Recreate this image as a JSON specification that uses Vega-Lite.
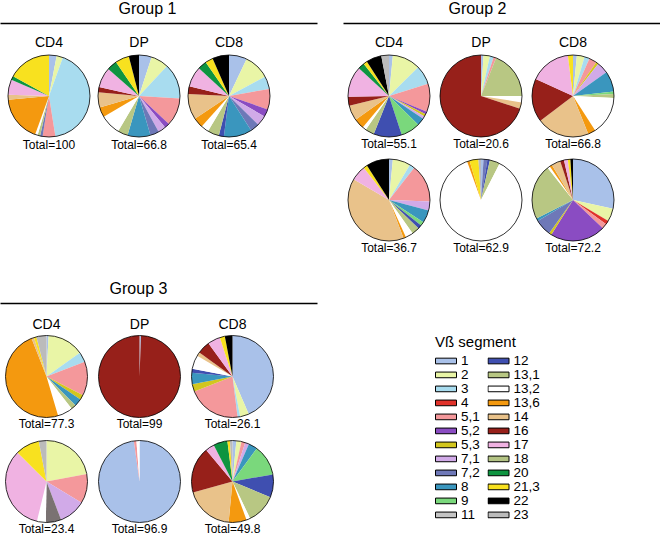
{
"$schema": "https://vega.github.io/schema/vega-lite/v6.json",
"padding": {"left": 0, "top": 0, "right": 0, "bottom": 0},
"background": "white",
"config": {"view": {"stroke": null}, "font": "Liberation Sans"},
"datasets": {
"segs": [{"s":"1","k":1},{"s":"2","k":2},{"s":"3","k":3},{"s":"4","k":4},{"s":"5,1","k":5},{"s":"5,2","k":6},{"s":"5,3","k":7},{"s":"7,1","k":8},{"s":"7,2","k":9},{"s":"8","k":10},{"s":"9","k":11},{"s":"10","k":12},{"s":"11","k":13},{"s":"12","k":14},{"s":"13,1","k":15},{"s":"13,2","k":16},{"s":"13,6","k":17},{"s":"14","k":18},{"s":"16","k":19},{"s":"17","k":20},{"s":"18","k":21},{"s":"20","k":22},{"s":"21,3","k":23},{"s":"22","k":24},{"s":"23","k":25}],
"pies": [
{"m":"M291","c":"CD4","t":"Total=100"},{"m":"M291","c":"DP","t":"Total=66.8"},{"m":"M291","c":"CD8","t":"Total=65.4"},
{"m":"M329","c":"CD4","t":"Total=55.1"},{"m":"M329","c":"DP","t":"Total=20.6"},{"m":"M329","c":"CD8","t":"Total=66.8"},
{"m":"M314","c":"CD4","t":"Total=36.7"},{"m":"M314","c":"DP","t":"Total=62.9"},{"m":"M314","c":"CD8","t":"Total=72.2"},
{"m":"M265","c":"CD4","t":"Total=77.3"},{"m":"M265","c":"DP","t":"Total=99"},{"m":"M265","c":"CD8","t":"Total=26.1"},
{"m":"M125","c":"CD4","t":"Total=23.4"},{"m":"M125","c":"DP","t":"Total=96.9"},{"m":"M125","c":"CD8","t":"Total=49.8"}
],
"slices": [
{"m":"M291","c":"CD4","s":"1","v":3},{"m":"M291","c":"CD4","s":"2","v":2.5},{"m":"M291","c":"CD4","s":"3","v":42},{"m":"M291","c":"CD4","s":"5,1","v":5},{"m":"M291","c":"CD4","s":"7,2","v":1},{"m":"M291","c":"CD4","s":"13,1","v":1},{"m":"M291","c":"CD4","s":"13,2","v":1},{"m":"M291","c":"CD4","s":"13,6","v":18},{"m":"M291","c":"CD4","s":"14","v":2},{"m":"M291","c":"CD4","s":"17","v":6},{"m":"M291","c":"CD4","s":"20","v":1.5},{"m":"M291","c":"CD4","s":"21,3","v":17},
{"m":"M291","c":"DP","s":"1","v":5},{"m":"M291","c":"DP","s":"2","v":7},{"m":"M291","c":"DP","s":"3","v":14},{"m":"M291","c":"DP","s":"5,1","v":11},{"m":"M291","c":"DP","s":"5,2","v":2},{"m":"M291","c":"DP","s":"7,1","v":3},{"m":"M291","c":"DP","s":"7,2","v":3.5},{"m":"M291","c":"DP","s":"8","v":9},{"m":"M291","c":"DP","s":"13,1","v":4},{"m":"M291","c":"DP","s":"13,2","v":8},{"m":"M291","c":"DP","s":"13,6","v":4},{"m":"M291","c":"DP","s":"14","v":6},{"m":"M291","c":"DP","s":"16","v":2},{"m":"M291","c":"DP","s":"17","v":8},{"m":"M291","c":"DP","s":"20","v":4},{"m":"M291","c":"DP","s":"21,3","v":5.5},{"m":"M291","c":"DP","s":"22","v":4},
{"m":"M291","c":"CD8","s":"1","v":7},{"m":"M291","c":"CD8","s":"2","v":10},{"m":"M291","c":"CD8","s":"3","v":5},{"m":"M291","c":"CD8","s":"5,1","v":8},{"m":"M291","c":"CD8","s":"5,2","v":3},{"m":"M291","c":"CD8","s":"7,1","v":4},{"m":"M291","c":"CD8","s":"7,2","v":3.5},{"m":"M291","c":"CD8","s":"8","v":11},{"m":"M291","c":"CD8","s":"12","v":2},{"m":"M291","c":"CD8","s":"13,1","v":4.5},{"m":"M291","c":"CD8","s":"13,2","v":3},{"m":"M291","c":"CD8","s":"13,6","v":4},{"m":"M291","c":"CD8","s":"14","v":10},{"m":"M291","c":"CD8","s":"16","v":3},{"m":"M291","c":"CD8","s":"17","v":8},{"m":"M291","c":"CD8","s":"20","v":3.5},{"m":"M291","c":"CD8","s":"21,3","v":3},{"m":"M291","c":"CD8","s":"22","v":6.5},
{"m":"M329","c":"CD4","s":"1","v":1.5},{"m":"M329","c":"CD4","s":"2","v":11},{"m":"M329","c":"CD4","s":"3","v":7.5},{"m":"M329","c":"CD4","s":"5,1","v":11},{"m":"M329","c":"CD4","s":"5,2","v":1},{"m":"M329","c":"CD4","s":"5,3","v":1},{"m":"M329","c":"CD4","s":"7,1","v":1},{"m":"M329","c":"CD4","s":"8","v":3},{"m":"M329","c":"CD4","s":"9","v":7.5},{"m":"M329","c":"CD4","s":"12","v":11},{"m":"M329","c":"CD4","s":"13,1","v":3.5},{"m":"M329","c":"CD4","s":"13,2","v":1.5},{"m":"M329","c":"CD4","s":"13,6","v":4},{"m":"M329","c":"CD4","s":"14","v":6},{"m":"M329","c":"CD4","s":"16","v":3.5},{"m":"M329","c":"CD4","s":"17","v":12},{"m":"M329","c":"CD4","s":"20","v":2.5},{"m":"M329","c":"CD4","s":"21,3","v":1.5},{"m":"M329","c":"CD4","s":"22","v":6},{"m":"M329","c":"CD4","s":"23","v":3},
{"m":"M329","c":"DP","s":"1","v":1},{"m":"M329","c":"DP","s":"2","v":2.5},{"m":"M329","c":"DP","s":"3","v":1.5},{"m":"M329","c":"DP","s":"5,1","v":1},{"m":"M329","c":"DP","s":"13,1","v":19},{"m":"M329","c":"DP","s":"13,2","v":2.5},{"m":"M329","c":"DP","s":"14","v":2.5},{"m":"M329","c":"DP","s":"16","v":70},
{"m":"M329","c":"CD8","s":"1","v":1.5},{"m":"M329","c":"CD8","s":"2","v":3},{"m":"M329","c":"CD8","s":"3","v":2},{"m":"M329","c":"CD8","s":"5,1","v":3},{"m":"M329","c":"CD8","s":"5,3","v":1},{"m":"M329","c":"CD8","s":"7,1","v":4.5},{"m":"M329","c":"CD8","s":"8","v":8},{"m":"M329","c":"CD8","s":"9","v":1},{"m":"M329","c":"CD8","s":"13,1","v":1.5},{"m":"M329","c":"CD8","s":"13,2","v":15},{"m":"M329","c":"CD8","s":"13,6","v":3},{"m":"M329","c":"CD8","s":"14","v":20.5},{"m":"M329","c":"CD8","s":"16","v":17},{"m":"M329","c":"CD8","s":"17","v":16},{"m":"M329","c":"CD8","s":"21,3","v":2},
{"m":"M314","c":"CD4","s":"1","v":1.5},{"m":"M314","c":"CD4","s":"2","v":7},{"m":"M314","c":"CD4","s":"3","v":2},{"m":"M314","c":"CD4","s":"5,1","v":15},{"m":"M314","c":"CD4","s":"7,1","v":3.5},{"m":"M314","c":"CD4","s":"8","v":5},{"m":"M314","c":"CD4","s":"9","v":1.5},{"m":"M314","c":"CD4","s":"12","v":1.5},{"m":"M314","c":"CD4","s":"13,1","v":3},{"m":"M314","c":"CD4","s":"13,2","v":3},{"m":"M314","c":"CD4","s":"13,6","v":1},{"m":"M314","c":"CD4","s":"14","v":39},{"m":"M314","c":"CD4","s":"17","v":6},{"m":"M314","c":"CD4","s":"21,3","v":1.5},{"m":"M314","c":"CD4","s":"22","v":9},
{"m":"M314","c":"DP","s":"1","v":1},{"m":"M314","c":"DP","s":"7,2","v":1.5},{"m":"M314","c":"DP","s":"12","v":1},{"m":"M314","c":"DP","s":"13,1","v":4},{"m":"M314","c":"DP","s":"13,2","v":87},{"m":"M314","c":"DP","s":"13,6","v":1},{"m":"M314","c":"DP","s":"21,3","v":3.5},{"m":"M314","c":"DP","s":"23","v":1},
{"m":"M314","c":"CD8","s":"1","v":28},{"m":"M314","c":"CD8","s":"2","v":5},{"m":"M314","c":"CD8","s":"4","v":1.5},{"m":"M314","c":"CD8","s":"5,1","v":2},{"m":"M314","c":"CD8","s":"5,2","v":21.5},{"m":"M314","c":"CD8","s":"5,3","v":1},{"m":"M314","c":"CD8","s":"7,2","v":6.5},{"m":"M314","c":"CD8","s":"8","v":1},{"m":"M314","c":"CD8","s":"13,1","v":21.5},{"m":"M314","c":"CD8","s":"13,2","v":1},{"m":"M314","c":"CD8","s":"13,6","v":1},{"m":"M314","c":"CD8","s":"14","v":3.5},{"m":"M314","c":"CD8","s":"16","v":1.5},{"m":"M314","c":"CD8","s":"17","v":1.5},{"m":"M314","c":"CD8","s":"21,3","v":1},{"m":"M314","c":"CD8","s":"22","v":1},
{"m":"M265","c":"CD4","s":"1","v":0.8},{"m":"M265","c":"CD4","s":"2","v":14.5},{"m":"M265","c":"CD4","s":"3","v":4},{"m":"M265","c":"CD4","s":"5,1","v":13.5},{"m":"M265","c":"CD4","s":"5,3","v":2},{"m":"M265","c":"CD4","s":"8","v":3},{"m":"M265","c":"CD4","s":"13,1","v":2},{"m":"M265","c":"CD4","s":"13,2","v":6},{"m":"M265","c":"CD4","s":"13,6","v":49},{"m":"M265","c":"CD4","s":"14","v":1},{"m":"M265","c":"CD4","s":"21,3","v":1},{"m":"M265","c":"CD4","s":"23","v":4},
{"m":"M265","c":"DP","s":"1","v":0.6},{"m":"M265","c":"DP","s":"16","v":99.4},
{"m":"M265","c":"CD8","s":"1","v":43.5},{"m":"M265","c":"CD8","s":"2","v":3.5},{"m":"M265","c":"CD8","s":"3","v":1},{"m":"M265","c":"CD8","s":"5,1","v":21},{"m":"M265","c":"CD8","s":"5,3","v":3},{"m":"M265","c":"CD8","s":"8","v":4.5},{"m":"M265","c":"CD8","s":"12","v":1.5},{"m":"M265","c":"CD8","s":"13,2","v":5.5},{"m":"M265","c":"CD8","s":"14","v":1.5},{"m":"M265","c":"CD8","s":"16","v":5},{"m":"M265","c":"CD8","s":"17","v":5},{"m":"M265","c":"CD8","s":"21,3","v":2},{"m":"M265","c":"CD8","s":"22","v":3},
{"m":"M125","c":"CD4","s":"2","v":22},{"m":"M125","c":"CD4","s":"5,1","v":11.5},{"m":"M125","c":"CD4","s":"7,1","v":10.5},{"m":"M125","c":"CD4","s":"10","v":6},{"m":"M125","c":"CD4","s":"13,2","v":3.5},{"m":"M125","c":"CD4","s":"17","v":33.5},{"m":"M125","c":"CD4","s":"21,3","v":9.5},{"m":"M125","c":"CD4","s":"23","v":3},
{"m":"M125","c":"DP","s":"1","v":97.8},{"m":"M125","c":"DP","s":"5,1","v":1},{"m":"M125","c":"DP","s":"13,2","v":1.2},
{"m":"M125","c":"CD8","s":"1","v":1.5},{"m":"M125","c":"CD8","s":"2","v":2},{"m":"M125","c":"CD8","s":"5,1","v":1.5},{"m":"M125","c":"CD8","s":"7,1","v":1.5},{"m":"M125","c":"CD8","s":"8","v":3.5},{"m":"M125","c":"CD8","s":"9","v":12},{"m":"M125","c":"CD8","s":"12","v":9},{"m":"M125","c":"CD8","s":"13,1","v":11.5},{"m":"M125","c":"CD8","s":"13,2","v":1.5},{"m":"M125","c":"CD8","s":"13,6","v":7},{"m":"M125","c":"CD8","s":"14","v":19},{"m":"M125","c":"CD8","s":"16","v":18},{"m":"M125","c":"CD8","s":"17","v":3.5},{"m":"M125","c":"CD8","s":"20","v":5.5},{"m":"M125","c":"CD8","s":"21,3","v":1},{"m":"M125","c":"CD8","s":"23","v":1}
]
},
"resolve": {"scale": {"color": "shared", "theta": "shared", "x": "independent", "y": "independent"}, "legend": {"color": "shared"}},
"columns": 2,
"spacing": {"row": 26, "column": 26},
"concat": [
{
"width": 317, "height": {"step": 104},
"encoding": {
 "x": {"field": "c", "type": "nominal", "sort": ["CD4","DP","CD8"], "scale": {"type": "band", "paddingInner": 0, "paddingOuter": 0.261, "align": 0.085},
  "axis": {"orient": "top", "title": "Group 1", "titleX": 147, "offset": 21, "ticks": false, "tickSize": 0, "labelPadding": -19, "labelBaseline": "middle", "labelAngle": 0, "labelFontSize": 14, "labelColor": "black", "domainColor": "black", "domainWidth": 1.6, "titleFontSize": 16, "titleFontWeight": "normal", "titleColor": "black", "titlePadding": 7, "grid": false}},
 "y": {"field": "m", "type": "nominal", "sort": ["M291"], "scale": {"type": "band", "paddingInner": 0, "paddingOuter": 0},
  "axis": {"orient": "right", "offset": -47, "title": null, "domain": false, "ticks": false, "labelPadding": 4, "labelFontSize": 13, "labelFontWeight": "bold", "labelColor": "black", "grid": false}}
},
"layer": [
 {"data": {"name": "slices"},
  "transform": [{"filter": {"field": "m", "oneOf": ["M291"]}}, {"lookup": "s", "from": {"data": {"name": "segs"}, "key": "s", "fields": ["k"]}}, {"stack": "v", "groupby": ["m","c"], "sort": [{"field": "k", "order": "ascending"}], "offset": "normalize", "as": ["t0","t1"]}],
  "mark": {"type": "arc", "outerRadius": 41},
  "encoding": {
   "theta": {"field": "t0", "type": "quantitative", "scale": {"domain": [0,1]}, "stack": null},
   "theta2": {"field": "t1"},
   "color": {"field": "s", "type": "nominal",
    "scale": {"domain": ["1","2","3","4","5,1","5,2","5,3","7,1","7,2","8","9","10","11","12","13,1","13,2","13,6","14","16","17","18","20","21,3","22","23"],
     "range": ["#A9C1E9","#E9F5A6","#A8DCEF","#E0322A","#F4989B","#8A4CC2","#D2C61E","#D1AAE8","#6E78B8","#3A96BE","#7AD87C","#7A7272","#C4C4C4","#3F4FB0","#B8C783","#FFFFFF","#F4990F","#E9C28A","#97201A","#F0B2E2","#B3C384","#0E9440","#F8E11F","#000000","#BBBBBB"]},
    "legend": {"title": "Vß segment", "orient": "none", "legendX": 435, "legendY": 291, "columns": 2, "values": ["1","2","3","4","5,1","5,2","5,3","7,1","7,2","8","9","11","12","13,1","13,2","13,6","14","16","17","18","20","21,3","22","23"], "symbolType": "M-1,-0.27H1V0.27H-1Z", "symbolSize": 441, "symbolStrokeColor": "black", "symbolStrokeWidth": 1, "clipHeight": 13.8, "rowPadding": -1.2, "columnPadding": 7.5, "labelFontSize": 13.5, "labelOffset": 4, "labelColor": "black", "titleFontSize": 15, "titleFontWeight": "normal", "titleColor": "black", "titlePadding": 4}}
  }},
 {"data": {"name": "pies"}, "transform": [{"filter": {"field": "m", "oneOf": ["M291"]}}],
  "mark": {"type": "arc", "outerRadius": 41, "theta": 0, "theta2": 6.2832, "fill": "transparent", "stroke": "black", "strokeWidth": 0.8}},
 {"data": {"name": "pies"}, "transform": [{"filter": {"field": "m", "oneOf": ["M291"]}}],
  "mark": {"type": "text", "fontSize": 12, "baseline": "middle", "color": "black"},
  "encoding": {"text": {"field": "t"}, "y": {"field": "m", "type": "nominal", "sort": ["M291"], "bandPosition": 0.97, "scale": {"type": "band", "paddingInner": 0, "paddingOuter": 0}, "axis": null}}}
]
},
{
"width": 317, "height": {"step": 104},
"encoding": {
 "x": {"field": "c", "type": "nominal", "sort": ["CD4","DP","CD8"], "scale": {"type": "band", "paddingInner": 0, "paddingOuter": 0.2228, "align": 0},
  "axis": {"orient": "top", "title": "Group 2", "titleX": 134, "offset": 21, "ticks": false, "tickSize": 0, "labelPadding": -19, "labelBaseline": "middle", "labelAngle": 0, "labelFontSize": 14, "labelColor": "black", "domainColor": "black", "domainWidth": 1.6, "titleFontSize": 16, "titleFontWeight": "normal", "titleColor": "black", "titlePadding": 7, "grid": false}},
 "y": {"field": "m", "type": "nominal", "sort": ["M329","M314"], "scale": {"type": "band", "paddingInner": 0, "paddingOuter": 0},
  "axis": {"orient": "right", "offset": -47, "title": null, "domain": false, "ticks": false, "labelPadding": 4, "labelFontSize": 13, "labelFontWeight": "bold", "labelColor": "black", "grid": false}}
},
"layer": [
 {"data": {"name": "slices"},
  "transform": [{"filter": {"field": "m", "oneOf": ["M329","M314"]}}, {"lookup": "s", "from": {"data": {"name": "segs"}, "key": "s", "fields": ["k"]}}, {"stack": "v", "groupby": ["m","c"], "sort": [{"field": "k", "order": "ascending"}], "offset": "normalize", "as": ["t0","t1"]}],
  "mark": {"type": "arc", "outerRadius": 41},
  "encoding": {
   "theta": {"field": "t0", "type": "quantitative", "scale": {"domain": [0,1]}, "stack": null},
   "theta2": {"field": "t1"},
   "color": {"field": "s", "type": "nominal",
    "scale": {"domain": ["1","2","3","4","5,1","5,2","5,3","7,1","7,2","8","9","10","11","12","13,1","13,2","13,6","14","16","17","18","20","21,3","22","23"],
     "range": ["#A9C1E9","#E9F5A6","#A8DCEF","#E0322A","#F4989B","#8A4CC2","#D2C61E","#D1AAE8","#6E78B8","#3A96BE","#7AD87C","#7A7272","#C4C4C4","#3F4FB0","#B8C783","#FFFFFF","#F4990F","#E9C28A","#97201A","#F0B2E2","#B3C384","#0E9440","#F8E11F","#000000","#BBBBBB"]},
    "legend": {"title": "Vß segment", "orient": "none", "legendX": 435, "legendY": 291, "columns": 2, "values": ["1","2","3","4","5,1","5,2","5,3","7,1","7,2","8","9","11","12","13,1","13,2","13,6","14","16","17","18","20","21,3","22","23"], "symbolType": "M-1,-0.27H1V0.27H-1Z", "symbolSize": 441, "symbolStrokeColor": "black", "symbolStrokeWidth": 1, "clipHeight": 13.8, "rowPadding": -1.2, "columnPadding": 7.5, "labelFontSize": 13.5, "labelOffset": 4, "labelColor": "black", "titleFontSize": 15, "titleFontWeight": "normal", "titleColor": "black", "titlePadding": 4}}
  }},
 {"data": {"name": "pies"}, "transform": [{"filter": {"field": "m", "oneOf": ["M329","M314"]}}],
  "mark": {"type": "arc", "outerRadius": 41, "theta": 0, "theta2": 6.2832, "fill": "transparent", "stroke": "black", "strokeWidth": 0.8}},
 {"data": {"name": "pies"}, "transform": [{"filter": {"field": "m", "oneOf": ["M329","M314"]}}],
  "mark": {"type": "text", "fontSize": 12, "baseline": "middle", "color": "black"},
  "encoding": {"text": {"field": "t"}, "y": {"field": "m", "type": "nominal", "sort": ["M329","M314"], "bandPosition": 0.96, "scale": {"type": "band", "paddingInner": 0, "paddingOuter": 0}, "axis": null}}}
]
},
{
"width": 317, "height": {"step": 105},
"encoding": {
 "x": {"field": "c", "type": "nominal", "sort": ["CD4","DP","CD8"], "scale": {"type": "band", "paddingInner": 0, "paddingOuter": 0.2043, "align": 0},
  "axis": {"orient": "top", "title": "Group 3", "titleX": 138, "offset": 21, "ticks": false, "tickSize": 0, "labelPadding": -21, "labelBaseline": "middle", "labelAngle": 0, "labelFontSize": 14, "labelColor": "black", "domainColor": "black", "domainWidth": 1.6, "titleFontSize": 16, "titleFontWeight": "normal", "titleColor": "black", "titlePadding": 7, "grid": false}},
 "y": {"field": "m", "type": "nominal", "sort": ["M265","M125"], "scale": {"type": "band", "paddingInner": 0, "paddingOuter": 0},
  "axis": {"orient": "right", "offset": -42, "title": null, "domain": false, "ticks": false, "labelPadding": 4, "labelFontSize": 13, "labelFontWeight": "bold", "labelColor": "black", "grid": false}}
},
"layer": [
 {"data": {"name": "slices"},
  "transform": [{"filter": {"field": "m", "oneOf": ["M265","M125"]}}, {"lookup": "s", "from": {"data": {"name": "segs"}, "key": "s", "fields": ["k"]}}, {"stack": "v", "groupby": ["m","c"], "sort": [{"field": "k", "order": "ascending"}], "offset": "normalize", "as": ["t0","t1"]}],
  "mark": {"type": "arc", "outerRadius": 41},
  "encoding": {
   "theta": {"field": "t0", "type": "quantitative", "scale": {"domain": [0,1]}, "stack": null},
   "theta2": {"field": "t1"},
   "color": {"field": "s", "type": "nominal",
    "scale": {"domain": ["1","2","3","4","5,1","5,2","5,3","7,1","7,2","8","9","10","11","12","13,1","13,2","13,6","14","16","17","18","20","21,3","22","23"],
     "range": ["#A9C1E9","#E9F5A6","#A8DCEF","#E0322A","#F4989B","#8A4CC2","#D2C61E","#D1AAE8","#6E78B8","#3A96BE","#7AD87C","#7A7272","#C4C4C4","#3F4FB0","#B8C783","#FFFFFF","#F4990F","#E9C28A","#97201A","#F0B2E2","#B3C384","#0E9440","#F8E11F","#000000","#BBBBBB"]},
    "legend": {"title": "Vß segment", "orient": "none", "legendX": 435, "legendY": 291, "columns": 2, "values": ["1","2","3","4","5,1","5,2","5,3","7,1","7,2","8","9","11","12","13,1","13,2","13,6","14","16","17","18","20","21,3","22","23"], "symbolType": "M-1,-0.27H1V0.27H-1Z", "symbolSize": 441, "symbolStrokeColor": "black", "symbolStrokeWidth": 1, "clipHeight": 13.8, "rowPadding": -1.2, "columnPadding": 7.5, "labelFontSize": 13.5, "labelOffset": 4, "labelColor": "black", "titleFontSize": 15, "titleFontWeight": "normal", "titleColor": "black", "titlePadding": 4}}
  }},
 {"data": {"name": "pies"}, "transform": [{"filter": {"field": "m", "oneOf": ["M265","M125"]}}],
  "mark": {"type": "arc", "outerRadius": 41, "theta": 0, "theta2": 6.2832, "fill": "transparent", "stroke": "black", "strokeWidth": 0.8}},
 {"data": {"name": "pies"}, "transform": [{"filter": {"field": "m", "oneOf": ["M265","M125"]}}],
  "mark": {"type": "text", "fontSize": 12, "baseline": "middle", "color": "black"},
  "encoding": {"text": {"field": "t"}, "y": {"field": "m", "type": "nominal", "sort": ["M265","M125"], "bandPosition": 0.95, "scale": {"type": "band", "paddingInner": 0, "paddingOuter": 0}, "axis": null}}}
]
}
]
}
